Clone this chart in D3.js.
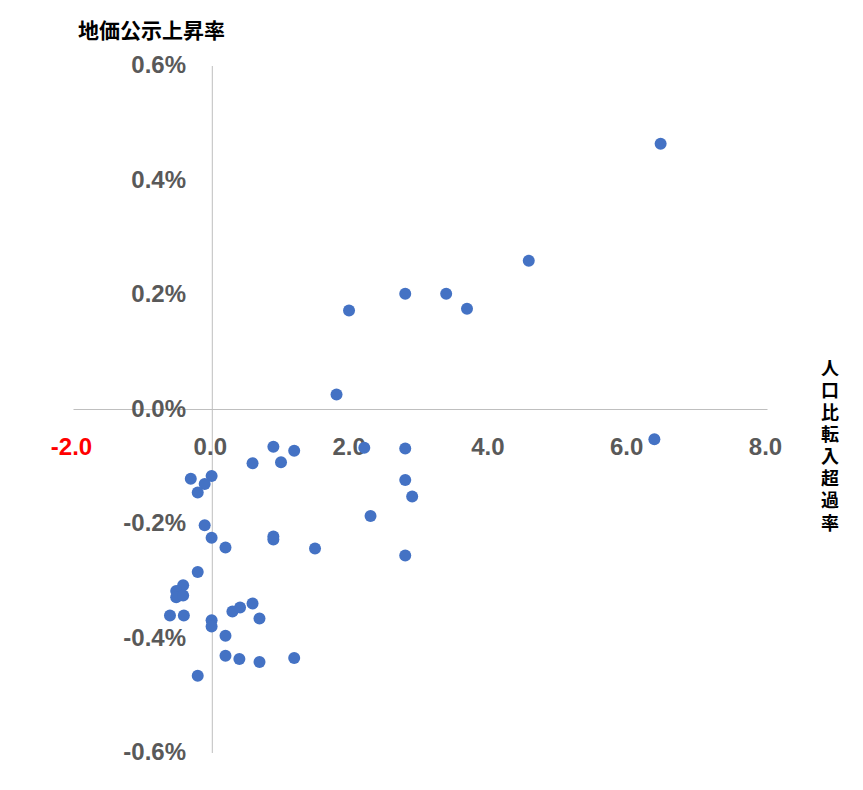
<!DOCTYPE html>
<html lang="ja">
<head>
<meta charset="utf-8">
<title>地価公示上昇率</title>
<script src="https://d3js.org/d3.v7.min.js"></script>
<style>
  body { margin: 0; background: #fff; }
  .tick-label { font-family: "Liberation Sans", Arial, sans-serif; font-weight: bold; font-size: 24px; fill: #595959; }
  .axis-title { font-family: "Noto Sans CJK JP", sans-serif; font-weight: bold; font-size: 20px; fill: #000; }
</style>
</head>
<body>
<svg id="chart"></svg>
<script>
// 人口比転入超過率 (x) と 地価公示上昇率 (y, %)
var netMigration = [6.46, 4.56, 2.78, 3.37, 3.67, 1.97, 1.79, 6.37, 2.19, 2.78,
  0.88, 1.18, 0.58, 0.99, -0.31, -0.01, -0.11, -0.21, 2.78, 2.88,
  2.28, -0.11, -0.01, 0.88, 0.88, 0.19, 1.48, 2.78, -0.21, -0.42,
  -0.52, -0.52, -0.42, -0.61, -0.41, -0.01, -0.01, 0.29, 0.40, 0.58,
  0.68, 0.19, 0.19, 0.39, 0.68, 1.18, -0.21];
var landPrice = [0.464, 0.260, 0.202, 0.202, 0.176, 0.173, 0.026, -0.052, -0.067, -0.068,
  -0.065, -0.072, -0.094, -0.092, -0.121, -0.116, -0.130, -0.145, -0.123, -0.152,
  -0.186, -0.202, -0.224, -0.222, -0.227, -0.241, -0.243, -0.255, -0.284, -0.307,
  -0.317, -0.328, -0.325, -0.360, -0.360, -0.368, -0.379, -0.353, -0.346, -0.339,
  -0.365, -0.395, -0.430, -0.436, -0.441, -0.434, -0.465];

var xTicks = [-2, 0, 2, 4, 6, 8];
var yTicks = [-0.6, -0.4, -0.2, 0, 0.2, 0.4, 0.6];
var yTitle = "地価公示上昇率";
var xTitle = "人口比転入超過率";

var W = 863, H = 790;
var svg = d3.select("#chart").attr("width", W).attr("height", H);

var x = d3.scaleLinear().domain([-2, 8]).range([73.5, 767.5]);
var y = d3.scaleLinear().domain([-0.6, 0.6]).range([753, 66]);

// 軸線
svg.append("line")
  .attr("x1", x(-2)).attr("x2", x(8))
  .attr("y1", y(0)).attr("y2", y(0))
  .attr("stroke", "#BFBFBF").attr("stroke-width", 1);
svg.append("line")
  .attr("x1", x(0)).attr("x2", x(0))
  .attr("y1", y(0.6)).attr("y2", y(-0.6))
  .attr("stroke", "#BFBFBF").attr("stroke-width", 1);

// y 目盛
svg.selectAll(".ylab").data(yTicks).enter().append("text")
  .attr("class", "tick-label")
  .attr("text-anchor", "end")
  .attr("x", 186)
  .attr("y", function(d){ return y(d) + 7; })
  .text(function(d){ return d.toFixed(1) + "%"; });

// x 目盛
svg.selectAll(".xlab").data(xTicks).enter().append("text")
  .attr("class", "tick-label")
  .attr("text-anchor", "middle")
  .attr("x", function(d){ return x(d) - 2; })
  .attr("y", y(0) + 45)
  .style("fill", function(d){ return d === -2 ? "#FF0000" : null; })
  .text(function(d){ return d.toFixed(1); });

// 点
svg.selectAll("circle").data(netMigration).enter().append("circle")
  .attr("cx", function(d){ return x(d); })
  .attr("cy", function(d, i){ return y(landPrice[i]); })
  .attr("r", 6)
  .attr("fill", "#4472C4");

// タイトル
svg.append("text")
  .attr("class", "axis-title")
  .attr("x", 78).attr("y", 38)
  .style("font-size", "21px")
  .text(yTitle);

// 縦書きの x 軸タイトル
svg.append("text")
  .attr("class", "axis-title")
  .attr("x", 830)
  .attr("y", 359)
  .style("font-size", "18px")
  .style("writing-mode", "vertical-rl")
  .style("letter-spacing", "4.1px")
  .text(xTitle);
</script>
</body>
</html>
